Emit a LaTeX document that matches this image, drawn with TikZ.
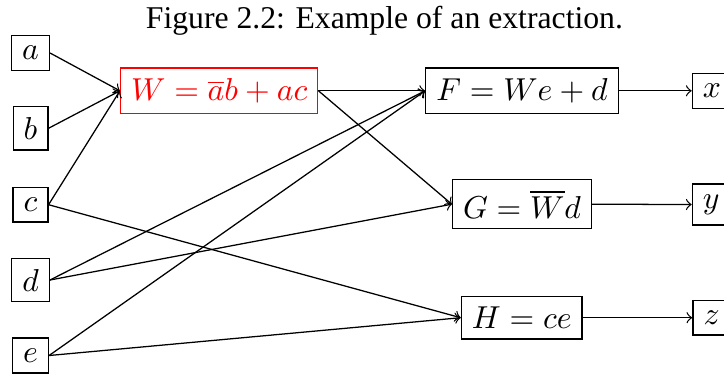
\documentclass[tikz,border=0pt]{standalone}
\usepackage{fontspec}
\newfontfamily\capfont{Liberation Serif}
\begin{document}
\begin{tikzpicture}[x=0.3155pt,y=-0.3155pt,
  vbox/.style={draw,line width=0.4pt,fill=white},
  wbox/.style={draw=red,text=red,line width=0.4pt},
  conn/.style={->,line width=0.4pt}]
\clip (0,0) rectangle (724,376);
\node[anchor=base,font=\capfont\fontsize{10pt}{12pt}\selectfont] (cap) at (384.4,28) {Figure 2.2: Example of an extraction.};
\node[vbox] (a) at (30.5,53) {$a$};
\node[vbox] (b) at (30.5,128.3) {$b$};
\node[vbox] (c) at (30.5,204.7) {$c$};
\node[vbox] (d) at (30.5,280) {$d$};
\node[vbox] (e) at (30.5,355.5) {$e$};
\node[wbox] (W) at (219.2,90.8) {$W=\overline{a}b+ac$};
\node[vbox] (F) at (522,90.8) {$F=We+d$};
\node[vbox] (G) at (522,204.2) {$G=\overline{W}d$};
\node[vbox] (H) at (521.7,317.7) {$H=ce$};
\node[vbox,anchor=west] (x) at (691.7,90.8) {$x$};
\node[vbox,anchor=west] (y) at (691.7,204.5) {$y$};
\node[vbox,anchor=west] (z) at (692.3,317.7) {$z$};
\draw[conn] (a.east) -- (W.west);
\draw[conn] (b.east) -- (W.west);
\draw[conn] (c.east) -- (W.west);
\draw[conn] (c.east) -- (H.west);
\draw[conn] (d.east) -- (F.west);
\draw[conn] (d.east) -- (G.west);
\draw[conn] (e.east) -- (F.west);
\draw[conn] (e.east) -- (H.west);
\draw[conn] (W.east) -- (F.west);
\draw[conn] (W.east) -- (G.west);
\draw[conn] (F.east) -- (x.west);
\draw[conn] (G.east) -- (y.west);
\draw[conn] (H.east) -- (z.west);
\end{tikzpicture}
\end{document}
